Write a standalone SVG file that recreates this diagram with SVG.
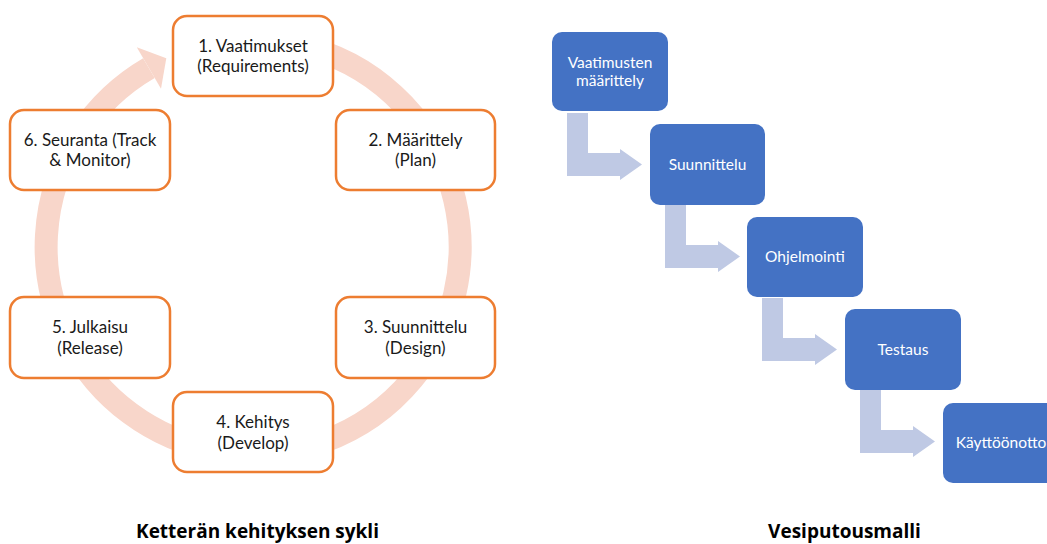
<svg xmlns="http://www.w3.org/2000/svg" width="1047" height="544" viewBox="0 0 1047 544">
<style>
.cyc{fill:#fff;stroke:#ED7D31;stroke-width:2.5}
.ct{font-family:Lato,"Liberation Sans",sans-serif;font-size:17px;fill:#1a1a1a;text-anchor:middle}
.wf{fill:#4472C4}
.wt{font-family:Lato,"Liberation Sans",sans-serif;font-size:15.5px;fill:#fff;text-anchor:middle}
.arr{fill:#BFC9E4}
.ttl{font-family:"Open Sans","Liberation Sans",sans-serif;font-size:19px;font-weight:bold;fill:#000;text-anchor:middle}
</style>
<rect width="1047" height="544" fill="#fff"/>
<g id="connectors">
  <path d="M217.1,43.1 A207,207 0 1 1 148.9,68.1" fill="none" stroke="#F8D6CA" stroke-width="23"/>
  <polygon points="136.8,47.3 166.3,58.2 161,88.8" fill="#F8D6CA"/>
  <path class="arr" d="M567,113 H588 V153 H620 V149 L642,164.5 L620,180 V176 H567 Z"/>
  <path class="arr" d="M665,205 H686 V245 H718 V241 L740,256.5 L718,272 V268 H665 Z"/>
  <path class="arr" d="M762,298 H783 V338 H815 V334 L837,349.5 L815,365 V361 H762 Z"/>
  <path class="arr" d="M860,390 H881 V430 H913 V426 L935,441.5 L913,457 V453 H860 Z"/>
</g>
<g id="n1"><rect class="cyc" x="173" y="16" width="160" height="80" rx="14"/><text class="ct" x="253" y="52">1. Vaatimukset</text><text class="ct" x="253" y="72">(Requirements)</text></g>
<g id="n2"><rect class="cyc" x="336" y="110" width="159" height="80" rx="14"/><text class="ct" x="415.5" y="146">2. Määrittely</text><text class="ct" x="415.5" y="166">(Plan)</text></g>
<g id="n3"><rect class="cyc" x="336" y="297" width="159" height="81" rx="14"/><text class="ct" x="415.5" y="333">3. Suunnittelu</text><text class="ct" x="415.5" y="354">(Design)</text></g>
<g id="n4"><rect class="cyc" x="173" y="392" width="160" height="80" rx="14"/><text class="ct" x="253" y="428">4. Kehitys</text><text class="ct" x="253" y="449">(Develop)</text></g>
<g id="n5"><rect class="cyc" x="10" y="297" width="160" height="81" rx="14"/><text class="ct" x="90" y="333">5. Julkaisu</text><text class="ct" x="90" y="354">(Release)</text></g>
<g id="n6"><rect class="cyc" x="10" y="110" width="160" height="80" rx="14"/><text class="ct" x="90" y="146">6. Seuranta (Track</text><text class="ct" x="90" y="166">&amp; Monitor)</text></g>
<g id="w1"><rect class="wf" x="552" y="32" width="116" height="79" rx="10"/><text class="wt" x="610" y="68">Vaatimusten</text><text class="wt" x="610" y="86">määrittely</text></g>
<g id="w2"><rect class="wf" x="650" y="124" width="115" height="81" rx="10"/><text class="wt" x="707.5" y="170">Suunnittelu</text></g>
<g id="w3"><rect class="wf" x="747" y="217" width="116" height="80" rx="10"/><text class="wt" x="805" y="262">Ohjelmointi</text></g>
<g id="w4"><rect class="wf" x="845" y="309" width="116" height="81" rx="10"/><text class="wt" x="903" y="355">Testaus</text></g>
<g id="w5"><rect class="wf" x="943" y="403" width="116" height="80" rx="10"/><text class="wt" x="1001" y="448">Käyttöönotto</text></g>
<text class="ttl" x="257.5" y="538">Ketterän kehityksen sykli</text>
<text class="ttl" x="844.5" y="538">Vesiputousmalli</text>
</svg>
